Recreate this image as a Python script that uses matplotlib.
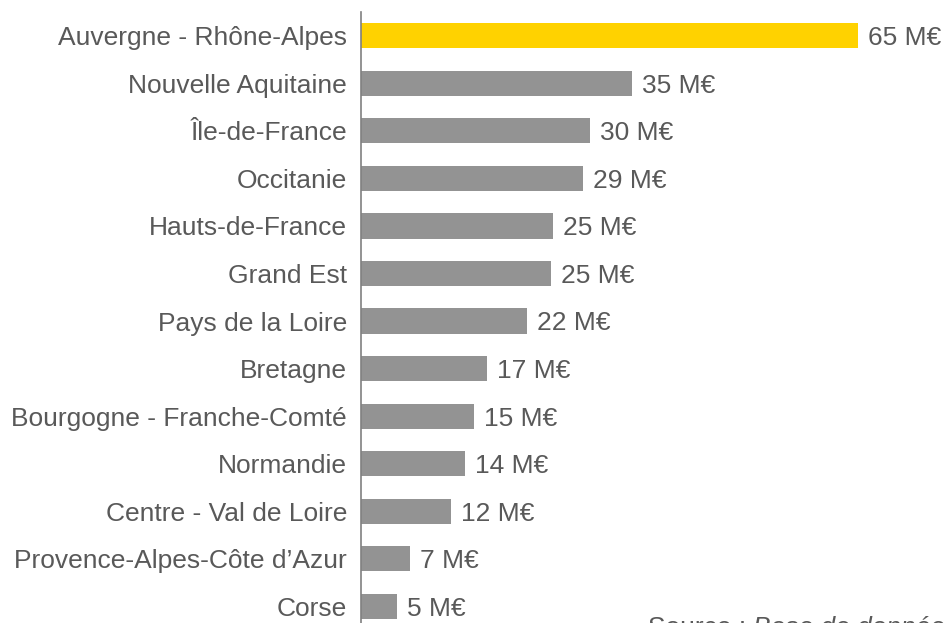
import matplotlib
matplotlib.use("Agg")
import matplotlib.pyplot as plt

regions = ["Auvergne - Rhône-Alpes", "Nouvelle Aquitaine", "Île-de-France", "Occitanie",
           "Hauts-de-France", "Grand Est", "Pays de la Loire", "Bretagne",
           "Bourgogne - Franche-Comté", "Normandie", "Centre - Val de Loire",
           "Provence-Alpes-Côte d’Azur", "Corse"]
amounts = [65.0, 35.4, 29.9, 29.0, 25.1, 24.8, 21.7, 16.5, 14.8, 13.6, 11.8, 6.4, 4.7]
amount_labels = ["65 M€", "35 M€", "30 M€", "29 M€", "25 M€", "25 M€", "22 M€",
                 "17 M€", "15 M€", "14 M€", "12 M€", "7 M€", "5 M€"]

plt.rcParams["font.family"] = ["Liberation Sans", "DejaVu Sans"]
text_color = "#595959"
fsize = 19

fig = plt.figure(figsize=(9.44, 6.23), dpi=100)
ax = fig.add_axes([361 / 944, 0, 583 / 944, 1 - 12 / 623])

colors = ["#FFD200"] + ["#939393"] * (len(regions) - 1)
ypos = list(range(len(regions)))
bars = ax.barh(ypos, amounts, height=0.53, color=colors)

for bar, lab in zip(bars, amount_labels):
    ax.text(bar.get_width() + 1.3, bar.get_y() + bar.get_height() / 2 + 0.05, lab,
            va="center", ha="left", fontsize=fsize, color=text_color)

ax.set_xlim(0, 583 / 7.65)
ax.set_ylim(12.35, -0.5)
ax.set_yticks(ypos)
ax.set_yticklabels(regions, fontsize=fsize, color=text_color)
ax.tick_params(axis="y", length=0, pad=10)
ax.set_xticks([])
for side in ["top", "right", "bottom"]:
    ax.spines[side].set_visible(False)
ax.spines["left"].set_color("#808080")
ax.spines["left"].set_linewidth(1.2)

# source line, cut by the bottom edge as in the original
fig.text(648 / 944, -12 / 623, "Source :", fontsize=fsize, color=text_color, va="baseline")
fig.text(753 / 944, -12 / 623, "Base de données", fontsize=fsize, color=text_color,
         va="baseline", style="italic")

fig.savefig("out.png", dpi=100)
